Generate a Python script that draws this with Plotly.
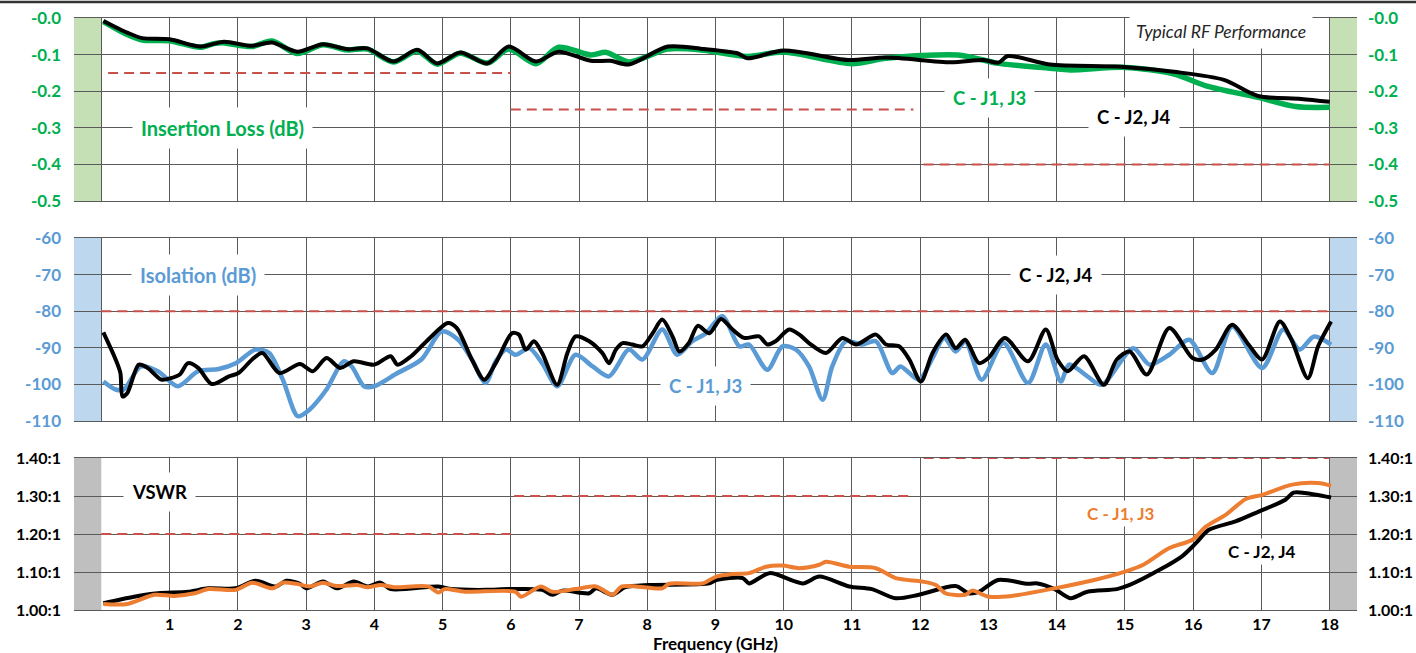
import plotly.graph_objects as go

# ---------------- data ----------------
il_j24_f = [0.03, 0.38, 0.6, 1.0, 1.45, 1.8, 2.2, 2.5, 2.87, 3.25, 3.6, 3.9, 4.28, 4.63, 4.92, 5.26, 5.66, 5.97,
            6.37, 6.7, 7.17, 7.46, 7.73, 8.3, 8.83, 9.33, 9.47, 10.0, 10.94, 11.5, 12.45, 12.93, 13.15, 13.28,
            13.9, 14.94, 15.72, 16.45, 16.95, 17.58, 18.0]
il_j24 = [-0.008, -0.04, -0.055, -0.058, -0.078, -0.065, -0.076, -0.067, -0.092, -0.072, -0.085, -0.083, -0.119,
          -0.087, -0.124, -0.094, -0.124, -0.078, -0.119, -0.092, -0.117, -0.117, -0.127, -0.078, -0.085, -0.097,
          -0.110, -0.089, -0.115, -0.108, -0.121, -0.115, -0.122, -0.104, -0.127, -0.133, -0.147, -0.169, -0.213,
          -0.221, -0.229]
il_j13_f = [0.03, 0.38, 0.6, 1.0, 1.45, 1.65, 1.8, 2.2, 2.5, 2.87, 3.25, 3.6, 3.9, 4.28, 4.63, 4.92, 5.26, 5.66,
            5.97, 6.37, 6.7, 7.17, 7.4, 7.73, 8.3, 8.83, 9.47, 10.0, 11.0, 11.5, 12.55, 13.15, 13.9, 14.2, 15.0,
            15.72, 16.2, 16.95, 17.5, 18.0]
il_j13 = [-0.01, -0.045, -0.06, -0.062, -0.08, -0.07, -0.068, -0.078, -0.063, -0.097, -0.073, -0.087, -0.085,
          -0.12, -0.09, -0.126, -0.096, -0.123, -0.085, -0.125, -0.08, -0.101, -0.094, -0.12, -0.085, -0.088,
          -0.105, -0.093, -0.125, -0.11, -0.101, -0.124, -0.137, -0.142, -0.135, -0.153, -0.186, -0.217, -0.242,
          -0.244]

iso_j24_f = [0.03, 0.21, 0.28, 0.31, 0.38, 0.55, 0.68, 0.88, 1.02, 1.15, 1.27, 1.42, 1.62, 1.87, 2.01, 2.21, 2.36,
             2.61, 2.91, 3.1, 3.3, 3.5, 3.7, 4.0, 4.24, 4.34, 4.54, 4.74, 5.08, 5.21, 5.43, 5.61, 5.78, 6.02, 6.12,
             6.22, 6.34, 6.46, 6.68, 6.83, 6.95, 7.15, 7.34, 7.44, 7.54, 7.64, 7.78, 7.93, 8.08, 8.22, 8.37, 8.47,
             8.61, 8.74, 8.91, 9.08, 9.25, 9.42, 9.64, 9.76, 9.88, 10.08, 10.23, 10.37, 10.62, 10.86, 11.06, 11.35,
             11.5, 11.69, 11.84, 12.01, 12.18, 12.38, 12.52, 12.66, 12.86, 13.0, 13.24, 13.58, 13.84, 14.01, 14.16,
             14.4, 14.69, 14.88, 15.07, 15.32, 15.65, 15.99, 16.14, 16.33, 16.57, 16.81, 17.01, 17.27, 17.44,
             17.68, 17.83, 18.02]
iso_j24 = [-85.8, -93.2, -96.9, -103.3, -102.4, -94.6, -95.5, -98.7, -98.3, -97.3, -94.2, -95.5, -99.9, -97.8,
           -96.9, -93.2, -91.4, -96.9, -94.4, -96.4, -92.8, -95.5, -93.7, -94.6, -92.3, -94.6, -92.3, -88.7, -83.2,
           -84.6, -93.2, -98.7, -94.2, -86.0, -86.4, -90.5, -88.2, -91.4, -100.1, -91.4, -86.9, -88.2, -91.4, -94.2,
           -90.5, -88.7, -89.1, -89.6, -86.0, -82.3, -86.9, -91.0, -88.7, -84.0, -86.0, -82.1, -85.0, -87.3, -86.9,
           -89.1, -88.2, -85.0, -86.4, -88.7, -91.4, -87.3, -89.1, -86.4, -89.1, -89.6, -93.2, -99.2, -91.4, -86.4,
           -90.1, -87.8, -94.2, -92.8, -87.3, -93.7, -85.0, -93.2, -96.4, -92.3, -100.1, -93.2, -91.0, -97.3, -84.6,
           -92.8, -93.2, -90.5, -83.7, -89.1, -93.2, -82.8, -87.8, -98.3, -89.6, -82.8]
iso_j13_f = [0.03, 0.21, 0.33, 0.58, 0.83, 1.12, 1.42, 1.72, 1.97, 2.26, 2.46, 2.66, 2.88, 3.05, 3.3, 3.55, 3.67,
             3.85, 4.0, 4.34, 4.69, 4.99, 5.23, 5.43, 5.63, 5.78, 5.93, 6.07, 6.27, 6.46, 6.68, 6.95, 7.2, 7.44,
             7.73, 7.93, 8.22, 8.44, 8.66, 8.86, 9.1, 9.35, 9.49, 9.76, 9.98, 10.18, 10.37, 10.57, 10.71, 10.91,
             11.15, 11.35, 11.59, 11.71, 11.98, 12.18, 12.35, 12.52, 12.66, 12.9, 13.22, 13.58, 13.84, 14.06, 14.18,
             14.45, 14.66, 15.12, 15.36, 15.65, 15.94, 16.28, 16.57, 17.01, 17.32, 17.56, 17.77, 18.02]
iso_j13 = [-99.2, -101.4, -101.4, -95.1, -96.4, -100.5, -96.4, -95.8, -94.2, -90.5, -91.4, -98.7, -108.7, -106.9,
           -101.4, -93.7, -95.1, -100.5, -100.5, -96.9, -93.2, -85.5, -87.8, -93.2, -99.6, -93.7, -90.5, -91.9,
           -90.1, -94.2, -100.5, -91.9, -95.1, -97.8, -90.5, -93.2, -85.0, -91.9, -88.2, -86.0, -81.4, -89.6,
           -89.1, -96.0, -89.6, -90.5, -95.1, -104.2, -95.1, -88.2, -89.1, -88.2, -96.9, -95.1, -98.7, -92.8,
           -87.3, -91.0, -88.2, -98.7, -88.7, -99.6, -89.1, -99.2, -94.6, -97.8, -100.1, -90.1, -94.6, -91.9,
           -87.8, -96.9, -84.2, -95.5, -85.0, -90.5, -86.9, -89.1]

vswr_j24_f = [0.03, 0.48, 0.83, 1.27, 1.57, 1.97, 2.26, 2.56, 2.71, 2.91, 3.0, 3.25, 3.45, 3.7, 3.9, 4.09, 4.24,
              4.94, 5.13, 5.63, 5.98, 6.46, 6.61, 6.76, 7.15, 7.25, 7.49, 7.68, 8.03, 8.91, 9.01, 9.4, 9.49, 9.79,
              10.28, 10.52, 10.96, 11.29, 11.64, 11.98, 12.52, 12.71, 12.86, 13.14, 13.58, 13.72, 13.97, 14.2,
              14.45, 14.88, 15.07, 15.5, 15.84, 16.04, 16.23, 16.62, 16.96, 17.35, 17.47, 17.64, 18.02]
vswr_j24 = [1.018, 1.035, 1.044, 1.048, 1.057, 1.057, 1.077, 1.062, 1.077, 1.069, 1.057, 1.075, 1.057, 1.075,
            1.062, 1.072, 1.055, 1.062, 1.055, 1.053, 1.055, 1.053, 1.040, 1.051, 1.044, 1.057, 1.040, 1.060,
            1.066, 1.070, 1.079, 1.084, 1.070, 1.097, 1.070, 1.088, 1.062, 1.055, 1.031, 1.040, 1.063, 1.044,
            1.048, 1.079, 1.069, 1.070, 1.055, 1.031, 1.048, 1.055, 1.066, 1.105, 1.142, 1.176, 1.211, 1.233,
            1.259, 1.290, 1.309, 1.308, 1.296]
vswr_j13_f = [0.03, 0.38, 0.78, 1.07, 1.37, 1.57, 1.97, 2.21, 2.51, 2.66, 2.86, 3.05, 3.25, 3.45, 3.75, 3.9, 4.09,
              4.29, 4.79, 4.94, 5.03, 5.33, 6.07, 6.15, 6.44, 6.61, 6.95, 7.25, 7.49, 7.63, 8.22, 8.32, 8.81, 9.01,
              9.25, 9.49, 9.74, 9.98, 10.23, 10.52, 10.62, 10.96, 11.35, 11.64, 12.03, 12.23, 12.37, 12.66, 12.76,
              13.0, 13.34, 13.97, 14.55, 15.0, 15.27, 15.65, 15.99, 16.19, 16.48, 16.77, 17.01, 17.45, 17.83, 18.02]
vswr_j13 = [1.016, 1.016, 1.040, 1.037, 1.044, 1.055, 1.053, 1.072, 1.057, 1.072, 1.069, 1.062, 1.072, 1.063,
            1.066, 1.060, 1.066, 1.060, 1.062, 1.046, 1.055, 1.048, 1.048, 1.035, 1.062, 1.048, 1.055, 1.062,
            1.040, 1.062, 1.057, 1.069, 1.070, 1.088, 1.095, 1.097, 1.114, 1.117, 1.110, 1.119, 1.127, 1.114,
            1.110, 1.084, 1.075, 1.066, 1.044, 1.040, 1.051, 1.035, 1.037, 1.057, 1.079, 1.101, 1.119, 1.163,
            1.185, 1.220, 1.251, 1.292, 1.303, 1.330, 1.334, 1.327]

# spec limits (start GHz, end GHz, value)
il_spec_start = [0.1, 6.0, 12.05]
il_spec_end = [6.0, 11.9, 18.0]
il_spec_val = [-0.15, -0.25, -0.40]
iso_spec_start = [0.0]
iso_spec_end = [18.0]
iso_spec_val = [-80]
vswr_spec_start = [0.0, 6.05, 12.05]
vswr_spec_end = [6.0, 11.9, 18.0]
vswr_spec_val = [1.20, 1.30, 1.40]

il_ticks = [0, -0.1, -0.2, -0.3, -0.4, -0.5]
il_tick_text = ["-0.0", "-0.1", "-0.2", "-0.3", "-0.4", "-0.5"]
iso_ticks = [-60, -70, -80, -90, -100, -110]
iso_tick_text = ["-60", "-70", "-80", "-90", "-100", "-110"]
vswr_ticks = [1.0, 1.1, 1.2, 1.3, 1.4]
vswr_tick_text = ["1.00:1", "1.10:1", "1.20:1", "1.30:1", "1.40:1"]
freq_ticks = list(range(1, 19))

# ---------------- styling ----------------
W, H = 1416, 653
GREEN = "#00B050"
BLUE = "#5B9BD5"
ORANGE = "#ED7D31"
RED = "#C9504B"
GRID = "#5a5a5a"
FONT = "Lato"

def py(p):
    return 1 - p / H

x_dom = [74 / W, 1357 / W]
dom1 = [py(201), py(18)]
dom2 = [py(421), py(238)]
dom3 = [py(610), py(458)]

fig = go.Figure()

def line(x, y, color, width, xa, ya, name):
    fig.add_trace(go.Scatter(x=x, y=y, mode="lines", name=name, xaxis=xa, yaxis=ya,
                             line=dict(color=color, width=width, shape="spline", smoothing=0.8),
                             showlegend=False, hoverinfo="skip"))

def spec(starts, ends, vals, xa, ya):
    for s, e, v in zip(starts, ends, vals):
        fig.add_trace(go.Scatter(x=[s, e], y=[v, v], mode="lines", xaxis=xa, yaxis=ya,
                                 line=dict(color=RED, width=2, dash="10px,6px"),
                                 showlegend=False, hoverinfo="skip", cliponaxis=False))

spec(il_spec_start, il_spec_end, il_spec_val, "x", "y")
line(il_j13_f, il_j13, GREEN, 5.5, "x", "y", "C - J1, J3")
line(il_j24_f, il_j24, "black", 4, "x", "y", "C - J2, J4")

spec(iso_spec_start, iso_spec_end, iso_spec_val, "x2", "y2")
line(iso_j13_f, iso_j13, BLUE, 4.5, "x2", "y2", "C - J1, J3")
line(iso_j24_f, iso_j24, "black", 4, "x2", "y2", "C - J2, J4")

spec(vswr_spec_start, vswr_spec_end, vswr_spec_val, "x3", "y3")
line(vswr_j24_f, vswr_j24, "black", 4, "x3", "y3", "C - J2, J4")
line(vswr_j13_f, vswr_j13, ORANGE, 4, "x3", "y3", "C - J1, J3")

# dummy traces to activate right-side axes
fig.add_trace(go.Scatter(x=[None], y=[None], xaxis="x", yaxis="y4", showlegend=False))
fig.add_trace(go.Scatter(x=[None], y=[None], xaxis="x2", yaxis="y5", showlegend=False))
fig.add_trace(go.Scatter(x=[None], y=[None], xaxis="x3", yaxis="y6", showlegend=False))

xcommon = dict(range=[-0.4, 18.4], domain=x_dom, showgrid=True, gridcolor=GRID, gridwidth=1,
               tick0=0, dtick=1, zeroline=False, showline=True, mirror=True, linecolor=GRID,
               linewidth=1, fixedrange=True, automargin=False, layer="below traces")
tickfont = lambda c, s=17: dict(family=FONT, size=s, color=c, weight="bold")
ycommon = dict(zeroline=False, ticklabelstandoff=12, automargin=False, tickmode="array", fixedrange=True)

fig.update_layout(
    width=W, height=H, margin=dict(l=0, r=0, t=0, b=0, autoexpand=False),
    paper_bgcolor="white", plot_bgcolor="white",
    xaxis=dict(**xcommon, anchor="y", showticklabels=False),
    xaxis2=dict(**xcommon, anchor="y2", showticklabels=False),
    xaxis3=dict(**xcommon, anchor="y3", showticklabels=True, tickmode="array", tickvals=freq_ticks,
                ticklabelstandoff=0,
                tickfont=dict(family=FONT, size=16, color="black", weight="bold")),
    yaxis=dict(**ycommon, domain=dom1, range=[-0.5, 0], anchor="x", tickvals=il_ticks,
               ticktext=il_tick_text, tickfont=tickfont(GREEN), showgrid=True, gridcolor=GRID),
    yaxis4=dict(**ycommon, domain=dom1, range=[-0.5, 0], anchor="x", overlaying="y", side="right",
                tickvals=il_ticks, ticktext=il_tick_text, tickfont=tickfont(GREEN), showgrid=False),
    yaxis2=dict(**ycommon, domain=dom2, range=[-110, -60], anchor="x2", tickvals=iso_ticks,
                ticktext=iso_tick_text, tickfont=tickfont(BLUE), showgrid=True, gridcolor=GRID),
    yaxis5=dict(**ycommon, domain=dom2, range=[-110, -60], anchor="x2", overlaying="y2", side="right",
                tickvals=iso_ticks, ticktext=iso_tick_text, tickfont=tickfont(BLUE), showgrid=False),
    yaxis3=dict(**ycommon, domain=dom3, range=[1.0, 1.4], anchor="x3", tickvals=vswr_ticks,
                ticktext=vswr_tick_text, tickfont=tickfont("black", 16), showgrid=True, gridcolor=GRID),
    yaxis6=dict(**ycommon, domain=dom3, range=[1.0, 1.4], anchor="x3", overlaying="y3", side="right",
                tickvals=vswr_ticks, ticktext=vswr_tick_text, tickfont=tickfont("black", 16), showgrid=False),
)
fig.update_layout(yaxis4_ticklabelstandoff=10, yaxis5_ticklabelstandoff=10, yaxis6_ticklabelstandoff=10)

# side bands
bands = [("x", "y", -0.5, 0, "#C5E0B4"), ("x2", "y2", -110, -60, "#BDD7EE"), ("x3", "y3", 1.0, 1.4, "#BFBFBF")]
for xa, ya, y0, y1, col in bands:
    for a, b in [(-0.4, 0), (18, 18.4)]:
        fig.add_shape(type="rect", xref=xa, yref=ya, x0=a, x1=b, y0=y0, y1=y1, fillcolor=col,
                      line=dict(width=0), layer="below")

# top border line
fig.add_shape(type="line", xref="paper", yref="paper", x0=0, x1=1, y0=py(2), y1=py(2),
              line=dict(color="#333333", width=2.5))

# x-axis title
fig.add_annotation(text="Frequency (GHz)", x=9.0, y=py(643), xref="x3", yref="paper", showarrow=False,
                   yanchor="middle", xanchor="center",
                   font=dict(family=FONT, size=17, color="black", weight="bold"))

def label(text, x, y, xa, ya, color, size=17, italic=False, bold=True, pad=8):
    fig.add_annotation(text=text, x=x, y=y, xref=xa, yref=ya, showarrow=False,
                       font=dict(family=FONT, size=size, color=color,
                                 weight="bold" if bold else "normal",
                                 style="italic" if italic else "normal"),
                       bgcolor="white", borderpad=pad)

label("Insertion Loss (dB)", 1.77, -0.3, "x", "y", GREEN, size=20)
label("Typical RF Performance", 16.4, -0.036, "x", "y", "#262626", size=17.5, italic=True, bold=False, pad=6)
label("C - J1, J3", 13.02, -0.218, "x", "y", GREEN, size=18.5)
label("C - J2, J4", 15.13, -0.27, "x", "y", "black", size=18.5)
label("Isolation (dB)", 1.42, -70, "x2", "y2", BLUE, size=20)
label("C - J2, J4", 13.99, -70, "x2", "y2", "black", size=18.5)
label("C - J1, J3", 8.86, -100.4, "x2", "y2", BLUE, size=18.5)
label("VSWR", 0.85, 1.31, "x3", "y3", "black", size=18.5)
label("C - J1, J3", 14.93, 1.255, "x3", "y3", ORANGE, size=17, pad=2)
label("C - J2, J4", 17.0, 1.153, "x3", "y3", "black", size=17, pad=2)

fig.write_html("out.html", config={"displayModeBar": False},
               post_script="document.body.style.margin='0px';")
